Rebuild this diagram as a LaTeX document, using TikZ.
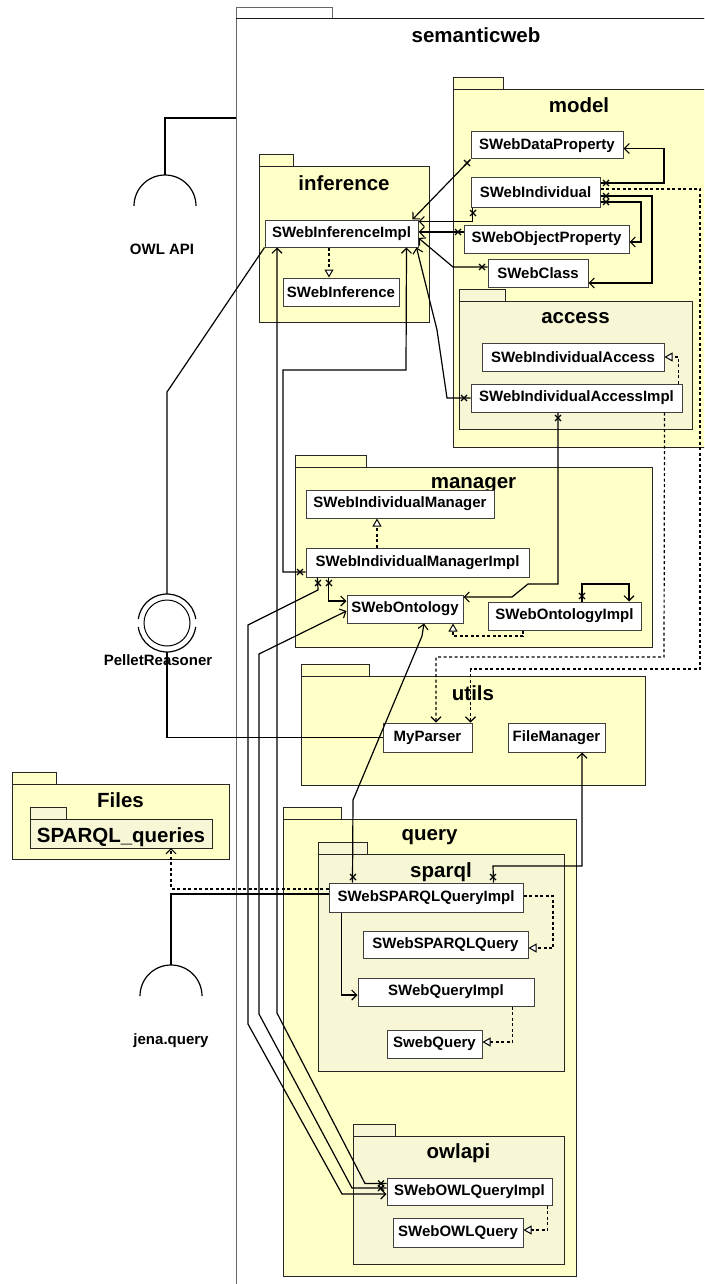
\documentclass[tikz,border=0pt]{standalone}
\usepackage{fontspec}
\setmainfont{Liberation Sans}
\usetikzlibrary{arrows.meta}
\definecolor{pkgfill}{HTML}{FFFFC8}
\definecolor{subfill}{HTML}{F7F7D6}
\definecolor{edgegray}{HTML}{404040}
\tikzset{
  cls/.style={draw=edgegray, fill=white, line width=1pt, inner sep=0pt,
    font=\fontsize{15}{18}\selectfont\bfseries},
  ptitle/.style={anchor=base, inner sep=0pt, font=\fontsize{20.5}{24}\selectfont\bfseries},
  lbl/.style={anchor=base, inner sep=0pt, font=\fontsize{15}{18}\selectfont\bfseries},
  pkgline/.style={draw=black!85, line width=1pt},
  conn/.style={line width=1.2pt, black},
  nav/.style={conn, -{Straight Barb[length=5pt,width=10pt,line width=1.1pt]}},
  dep/.style={nav, dash pattern=on 3pt off 2.5pt},
  real/.style={conn, dash pattern=on 3pt off 2.5pt,
    -{Triangle[open, fill=white, length=8pt, width=9pt, line width=1pt]}},
  endx/.pic={\draw[line width=1.1pt] (-3pt,-3pt)--(3pt,3pt) (-3pt,3pt)--(3pt,-3pt);},
}
% package: tab + body
\newcommand\umlpkg[7]{%
  \draw[pkgline, fill=#7] (#1,#2-12) rectangle (#1+#5,#2);
  \draw[pkgline, fill=#7] (#1,#2) rectangle (#3,#4);}
\begin{document}
\begin{tikzpicture}[x=1pt, y=-1pt]
\path[use as bounding box] (0,0) rectangle (704,1284);
\clip (0,0) rectangle (704,1284);

% ---- packages ----
\draw[draw=black!60, line width=1pt, fill=white] (236,8) rectangle (332,19);
\draw[draw=black!60, line width=1pt, fill=white] (236,19) rectangle (716,1300);
\draw[black!90, line width=1pt] (236,19) -- (716,19);
\umlpkg{453}{90}{705}{447}{50}{}{pkgfill}
\umlpkg{259}{167}{429}{322}{34}{}{pkgfill}
\umlpkg{459}{301}{692}{429}{46}{}{subfill}
\umlpkg{295}{467}{652}{647}{71}{}{pkgfill}
\umlpkg{301}{676}{645}{785}{68}{}{pkgfill}
\umlpkg{12}{784}{229}{859}{44}{}{pkgfill}
\umlpkg{30}{819}{212}{848}{36}{}{subfill}
\umlpkg{283}{819}{576}{1276}{58}{}{pkgfill}
\umlpkg{318}{854}{564}{1071}{49}{}{subfill}
\umlpkg{353}{1136}{564}{1264}{42}{}{subfill}

% ---- package titles ----
\node[ptitle] (tSem) at (476,43) {semanticweb};
\node[ptitle] (tModel) at (579,113) {model};
\node[ptitle] (tInf) at (344,190) {inference};
\node[ptitle] (tAcc) at (575.5,323) {access};
\node[ptitle] (tMgr) at (473.5,488) {manager};
\node[ptitle] (tUtils) at (473,700) {utils};
\node[ptitle] (tFiles) at (120.5,807) {Files};
\node[ptitle] (tSq) at (121,842) {SPARQL\_queries};
\node[ptitle] (tQuery) at (429.5,840) {query};
\node[ptitle] (tSparql) at (441,877) {sparql};
\node[ptitle] (tOwl) at (458.5,1158) {owlapi};

% ---- interfaces outside ----
\coordinate (swLeft) at (236,118);
\coordinate (owlSock) at (165,206);
\coordinate (jenaSock) at (171,996);
\coordinate (sqBottom) at (171,848);
\node[lbl] (lOwl) at (162,254) {OWL API};
\node[lbl] (lPellet) at (158,665) {PelletReasoner};
\node[lbl] (lJena) at (171,1044) {jena.query};
\draw[conn] ([xshift=-31pt]owlSock) arc[start angle=180, end angle=0, radius=31pt];
\draw[conn] ([xshift=-31pt]jenaSock) arc[start angle=180, end angle=0, radius=31pt];
\draw[conn] (swLeft) -| ([yshift=31pt]owlSock);
\node[circle, draw, line width=1pt, minimum size=46pt, inner sep=0pt] (pellet) at (167,623) {};
\draw[conn] (pellet.center) ++(8:29pt) arc[start angle=8, end angle=172, radius=29pt];
\draw[conn] (pellet.center) ++(188:29pt) arc[start angle=188, end angle=352, radius=29pt];

% ---- classes (placed first so connectors can refer to them) ----
\path
 (547,145.5)   node[cls, minimum width=152pt, minimum height=27pt] (dataProp) {SWebDataProperty}
 (535.5,192.5) node[cls, minimum width=129pt, minimum height=29pt] (indiv) {SWebIndividual}
 (546.5,239)   node[cls, minimum width=165pt, minimum height=28pt] (objProp) {SWebObjectProperty}
 (538,273)     node[cls, minimum width=100pt, minimum height=28pt] (wclass) {SWebClass}
 (573,357)     node[cls, minimum width=182pt, minimum height=28pt] (indAcc) {SWebIndividualAccess}
 (576.5,398)   node[cls, minimum width=211pt, minimum height=28pt] (accImpl) {SWebIndividualAccessImpl}
 (341.5,233.5) node[cls, minimum width=153pt, minimum height=27pt] (inferImpl) {SWebInferenceImpl}
 (341,292)     node[cls, minimum width=116pt, minimum height=28pt] (infer) {SWebInference}
 (400,504)     node[cls, minimum width=188pt, minimum height=28pt] (indMgr) {SWebIndividualManager}
 (417.5,562.5) node[cls, minimum width=223pt, minimum height=29pt] (mgrImpl) {SWebIndividualManagerImpl}
 (405,609)     node[cls, minimum width=116pt, minimum height=28pt] (onto) {SWebOntology}
 (564.5,616)   node[cls, minimum width=153pt, minimum height=28pt] (ontoImpl) {SWebOntologyImpl}
 (427.5,737.5) node[cls, minimum width=89pt, minimum height=29pt] (myParser) {MyParser}
 (556.5,737.5) node[cls, minimum width=97pt, minimum height=29pt] (fileMgr) {FileManager}
 (426,897.5)   node[cls, minimum width=194pt, minimum height=29pt] (sparqlImpl) {SWebSPARQLQueryImpl}
 (445.5,944.5) node[cls, minimum width=165pt, minimum height=27pt] (sparqlQ) {SWebSPARQLQuery}
 (446,992)     node[cls, minimum width=176pt, minimum height=28pt] (queryImpl) {SWebQueryImpl}
 (434.5,1044)  node[cls, minimum width=95pt, minimum height=28pt] (swq) {SwebQuery}
 (469.5,1191.5) node[cls, minimum width=165pt, minimum height=27pt] (owlImpl) {SWebOWLQueryImpl}
 (458,1232.5)  node[cls, minimum width=130pt, minimum height=29pt] (owlQ) {SWebOWLQuery};

% ---- connectors ----
% into SWebInferenceImpl
\draw[nav] (dataProp.south west) -- ([xshift=-6pt]inferImpl.north east);
\draw[nav] ([xshift=2pt]indiv.south west) |- ([yshift=-2pt]inferImpl.north east);
\draw[nav] ([yshift=7pt]objProp.west) -- ([yshift=7pt]objProp.west -| inferImpl.east);
\draw[nav] ([yshift=6pt]wclass.west) -- (453,267) -- ([yshift=-4.5pt]inferImpl.east);
\draw[nav] (accImpl.west) -- (447,398) -- (437,330) -- ([xshift=-2pt]inferImpl.south east);
\draw[nav] ([yshift=-9.5pt]mgrImpl.west) -- (283,572) -- (283,370) -- (406,370)
  -- ([xshift=-12pt]inferImpl.south east);
\draw[nav] ([yshift=8pt]owlImpl.west) -- (365,1183.5) -- (277,1013)
  -- ([xshift=-64.5pt]inferImpl.south);
\draw[real] ([xshift=-12.5pt]inferImpl.south) -- ([xshift=-12pt]infer.north);
\draw[conn] (inferImpl.south west) -- (167,392) -- ([yshift=29pt]pellet.center);
\draw[conn] ([yshift=-29pt]pellet.center) |- (myParser.west);

% inside model
\draw[nav] ([yshift=9.5pt]indiv.east) -- (664,183) |- ([yshift=-3pt]dataProp.east);
\draw[nav] ([yshift=-3.5pt]indiv.east) -- (652,196) |- ([yshift=-10pt]wclass.east);
\draw[nav] ([yshift=-9.5pt]indiv.east) -- (641,202) |- ([yshift=-3pt]objProp.east);
\draw[real] ([xshift=-4pt]accImpl.north east) |- (indAcc.east);

% dependencies on MyParser
\draw[dep] ([yshift=3.5pt]indiv.east) -- (700,189) -- (700,669) -| ([xshift=-2pt]myParser.north east);
\draw[dep] ([xshift=-18pt]accImpl.south east) -- (664,657) -| ([xshift=8.5pt]myParser.north);

% manager
\draw[nav] ([xshift=-18.5pt]accImpl.south) -- (558,584) -- (528,584) -- (512,597)
  -- ([yshift=12pt]onto.east);
\draw[real] ([xshift=-40.5pt]mgrImpl.north) -- ([xshift=-23pt]indMgr.south);
\draw[nav] ([xshift=23pt]mgrImpl.south west) |- ([yshift=8pt]onto.west);
\draw[real] ([xshift=-41.5pt]ontoImpl.south) -- (523,636) -| ([xshift=48pt]onto.south);
\draw[nav] ([xshift=17.5pt]ontoImpl.north) -- (582,584) -| ([xshift=64.5pt]ontoImpl.north);

% long runs down to the owlapi package
\draw[nav] ([xshift=12pt]mgrImpl.south west) -- (318,590) -- (248,625) -- (248,1024)
  -- (342,1194) -- ([yshift=-2.5pt]owlImpl.west);
\draw[nav] ([yshift=3.5pt]owlImpl.west) -- (352,1188) -- (259,1014) -- (259,654)
  -- ([yshift=-2pt]onto.west);

% query package
\draw[nav] ([xshift=24pt]sparqlImpl.north west) -- (353,800) -- (422,636) -- ([xshift=19pt]onto.south);
\draw[nav] ([xshift=-30pt]sparqlImpl.north east) -- (493,866) -| ([xshift=25.5pt]fileMgr.south);
\draw[conn] ([yshift=3.5pt]sparqlImpl.west) -| ([yshift=31pt]jenaSock);
\draw[dep] ([yshift=8.5pt]sparqlImpl.west) -| (sqBottom);
\draw[real] ([yshift=1.5pt]sparqlImpl.east) -- (553,896) |- ([yshift=-3.5pt]sparqlQ.east);
\draw[nav] ([xshift=13pt]sparqlImpl.south west) |- ([yshift=-3pt]queryImpl.west);
\draw[real] ([xshift=-22pt]queryImpl.south east) |- ([yshift=2pt]swq.east);
\draw[real] ([xshift=-5pt]owlImpl.south east) |- ([yshift=2.5pt]owlQ.east);

% ---- non-navigable end marks ----
\foreach \p in {(467,163),(473,213),(458,232),(482,267),(464,398),(606,183),(606,196),
  (606,202),(558,418),(493,877),(353,877),(381,1183.5),(381,1188),(318,583),(329,583),
  (300,572),(582,596)}
  \pic at \p {endx};
\end{tikzpicture}
\end{document}
